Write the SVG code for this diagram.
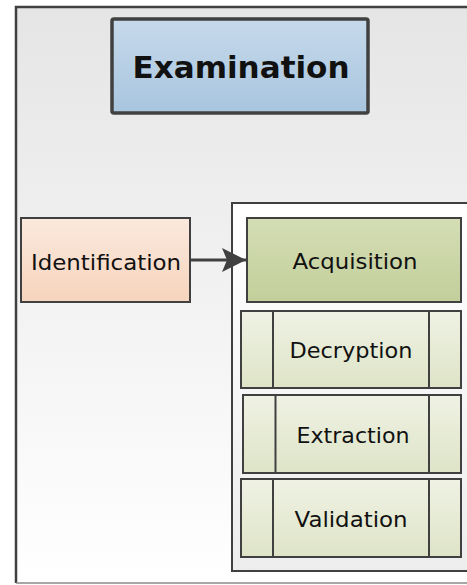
<svg xmlns="http://www.w3.org/2000/svg" width="467" height="585" viewBox="0 0 467 585">
<defs>
<linearGradient id="gOuter" x1="0" y1="0" x2="0" y2="1"><stop offset="0" stop-color="#e5e5e5"/><stop offset="1" stop-color="#ffffff"/></linearGradient>
<linearGradient id="gInner" x1="0" y1="0" x2="0" y2="1"><stop offset="0" stop-color="#ffffff"/><stop offset="1" stop-color="#ededed"/></linearGradient>
<linearGradient id="gExam" x1="0" y1="0" x2="0" y2="1"><stop offset="0" stop-color="#c6d9eb"/><stop offset="1" stop-color="#a8c5de"/></linearGradient>
<linearGradient id="gIdent" x1="0" y1="0" x2="0" y2="1"><stop offset="0" stop-color="#fbe9dd"/><stop offset="1" stop-color="#f6d4bd"/></linearGradient>
<linearGradient id="gAcq" x1="0" y1="0" x2="0" y2="1"><stop offset="0" stop-color="#d4ddb4"/><stop offset="1" stop-color="#c3cf9b"/></linearGradient>
<linearGradient id="gSub" x1="0" y1="0" x2="0" y2="1"><stop offset="0" stop-color="#eff2e4"/><stop offset="1" stop-color="#dee4c7"/></linearGradient>
<marker id="arr" viewBox="0 0 24 24" refX="24" refY="12" markerWidth="24" markerHeight="24" markerUnits="userSpaceOnUse" orient="auto"><path d="M0,0 L24,12 L0,24 L5,12 Z" fill="#404040"/></marker>
</defs>
<style>
.box{stroke:#404040;stroke-width:2}
.div{stroke:#404040;stroke-width:2}
.t{font-family:"DejaVu Sans",Verdana,sans-serif;font-size:21.5px;fill:#111;text-anchor:middle}
.tb{font-family:"DejaVu Sans",Verdana,sans-serif;font-size:30px;font-weight:bold;fill:#111;text-anchor:middle}
</style>
<rect width="467" height="585" fill="#ffffff"/>
<g id="frame">
<path d="M16,583 L16,6 L470,6 L470,583 Z" fill="url(#gOuter)" stroke="none"/>
<path d="M16,583 L16,7 L470,7" fill="none" stroke="#404040" stroke-width="2.5"/>
<line x1="16" y1="583" x2="467" y2="583" stroke="#888" stroke-width="1.5"/>
</g>
<g id="container">
<path d="M470,203 L232,203 L232,571 L470,571" fill="url(#gInner)" stroke="#404040" stroke-width="2"/>
</g>
<g id="examination">
<rect x="112" y="19" width="256" height="94" rx="2" fill="url(#gExam)" stroke="#404040" stroke-width="3.5"/>
<text class="tb" x="241" y="78" textLength="217" lengthAdjust="spacingAndGlyphs">Examination</text>
</g>
<g id="identification">
<rect class="box" x="21" y="218" width="169" height="84" fill="url(#gIdent)"/>
<text class="t" x="106" y="270" textLength="150" lengthAdjust="spacingAndGlyphs">Identification</text>
</g>
<g id="acquisition">
<rect class="box" x="247" y="218" width="214" height="84" fill="url(#gAcq)"/>
<text class="t" x="355" y="269" textLength="125" lengthAdjust="spacingAndGlyphs">Acquisition</text>
</g>
<g id="decryption">
<rect class="box" x="241" y="311" width="220" height="77" fill="url(#gSub)"/>
<line class="div" x1="273" y1="311" x2="273" y2="388"/>
<line class="div" x1="429" y1="311" x2="429" y2="388"/>
<text class="t" x="351" y="358" textLength="123" lengthAdjust="spacingAndGlyphs">Decryption</text>
</g>
<g id="extraction">
<rect class="box" x="243" y="395" width="218" height="78" fill="url(#gSub)"/>
<line class="div" x1="275.5" y1="395" x2="275.5" y2="473"/>
<line class="div" x1="429" y1="395" x2="429" y2="473"/>
<text class="t" x="353" y="443" textLength="113" lengthAdjust="spacingAndGlyphs">Extraction</text>
</g>
<g id="validation">
<rect class="box" x="241" y="479" width="220" height="78" fill="url(#gSub)"/>
<line class="div" x1="273" y1="479" x2="273" y2="557"/>
<line class="div" x1="429" y1="479" x2="429" y2="557"/>
<text class="t" x="351" y="527" textLength="113" lengthAdjust="spacingAndGlyphs">Validation</text>
</g>
<g id="connectors">
<line x1="190" y1="260" x2="246" y2="260" stroke="#404040" stroke-width="3" marker-end="url(#arr)"/>
</g>
</svg>
